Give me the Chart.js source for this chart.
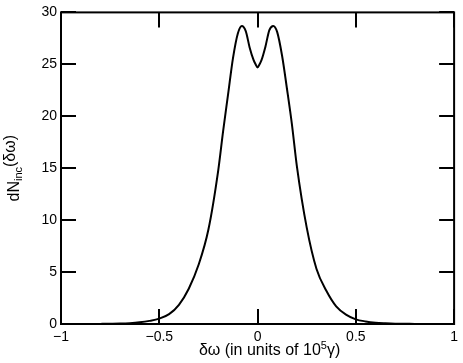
<!DOCTYPE html>
<html>
<head>
<meta charset="utf-8">
<script src="https://cdn.jsdelivr.net/npm/chart.js@4"></script>
<style>
  html, body { margin: 0; padding: 0; background: #fff; }
  #wrap { width: 463px; height: 363px; }
</style>
</head>
<body>
<div id="wrap"><canvas id="chart1"></canvas></div>
<script>
// frequency offset (units of 1e5 gamma)
const dOmega = [-1, -0.9, -0.8, -0.7, -0.65, -0.6, -0.55, -0.5, -0.45, -0.4, -0.35, -0.3, -0.25, -0.2, -0.175, -0.15, -0.125, -0.1, -0.08, -0.06, -0.04, -0.02, -0.01,
  0, 0.01, 0.02, 0.04, 0.06, 0.08, 0.1, 0.125, 0.15, 0.175, 0.2, 0.25, 0.3, 0.35, 0.4, 0.45, 0.5, 0.55, 0.6, 0.65, 0.7, 0.8, 0.9, 1];
// dN_inc values
const dNinc = [0, 0, 0.01, 0.04, 0.08, 0.16, 0.3, 0.52, 0.95, 1.85, 3.4, 5.7, 9.1, 14.8, 18.6, 22.1, 25.6, 28.0, 28.7, 28.2, 26.6, 25.4, 25.0,
  24.7, 25.0, 25.4, 26.7, 28.3, 28.7, 28.1, 25.8, 22.6, 19.2, 15.2, 9.3, 5.3, 3.2, 1.7, 0.9, 0.45, 0.25, 0.13, 0.07, 0.03, 0.01, 0, 0];

const xTicks = [-1, -0.5, 0, 0.5, 1];
const xTickLabels = ['\u22121', '\u22120.5', '0', '0.5', '1'];
const yTicks = [0, 5, 10, 15, 20, 25, 30];

const font = '"Liberation Sans", Arial, Helvetica, sans-serif';

// frame, inward ticks on all four sides, and the two axis titles
const framePlugin = {
  id: 'frame',
  afterDraw(chart) {
    const ctx = chart.ctx;
    const a = chart.chartArea;
    const xs = chart.scales.x, ys = chart.scales.y;
    const len = 15;
    ctx.save();
    ctx.strokeStyle = '#000';
    ctx.lineWidth = 2;
    ctx.beginPath();
    xTicks.forEach(v => {
      const px = Math.round(xs.getPixelForValue(v));
      ctx.moveTo(px, a.bottom); ctx.lineTo(px, a.bottom - len);
      ctx.moveTo(px, a.top); ctx.lineTo(px, a.top + len);
    });
    yTicks.forEach(v => {
      const py = Math.round(ys.getPixelForValue(v));
      ctx.moveTo(a.left, py); ctx.lineTo(a.left + len, py);
      ctx.moveTo(a.right, py); ctx.lineTo(a.right - len, py);
    });
    ctx.stroke();
    ctx.strokeRect(a.left, a.top, a.right - a.left, a.bottom - a.top);

    // x title with superscript
    ctx.fillStyle = '#000';
    ctx.textBaseline = 'alphabetic';
    ctx.textAlign = 'left';
    const big = '16px ' + font, small = '11px ' + font;
    const p1 = '\u03b4\u03c9 (in units of 10', p2 = '5', p3 = '\u03b3)';
    ctx.font = big; const w1 = ctx.measureText(p1).width, w3 = ctx.measureText(p3).width;
    ctx.font = small; const w2 = ctx.measureText(p2).width;
    let x0 = (a.left + a.right) / 2 + 12 - (w1 + w2 + w3) / 2;
    const by = 355;
    ctx.font = big; ctx.fillText(p1, x0, by);
    ctx.font = small; ctx.fillText(p2, x0 + w1, by - 6);
    ctx.font = big; ctx.fillText(p3, x0 + w1 + w2, by);

    // y title with subscript, rotated
    const q1 = 'dN', q2 = 'inc', q3 = '(\u03b4\u03c9)';
    ctx.font = big; const v1 = ctx.measureText(q1).width, v3 = ctx.measureText(q3).width;
    ctx.font = small; const v2 = ctx.measureText(q2).width;
    ctx.translate(19, (a.top + a.bottom) / 2);
    ctx.rotate(-Math.PI / 2);
    const y0 = -(v1 + v2 + v3) / 2;
    ctx.font = big; ctx.fillText(q1, y0, 0);
    ctx.font = small; ctx.fillText(q2, y0 + v1, 3);
    ctx.font = big; ctx.fillText(q3, y0 + v1 + v2, -4);
    ctx.restore();
  }
};

const ctx1 = document.getElementById('chart1').getContext('2d');
const myChart1 = new Chart(ctx1, {
  type: 'line',
  data: {
    datasets: [{
      data: dOmega.map((x, i) => ({ x: x, y: dNinc[i] })),
      borderColor: '#000',
      borderWidth: 2,
      pointRadius: 0,
      fill: false,
      cubicInterpolationMode: 'monotone'
    }]
  },
  options: {
    responsive: true,
    maintainAspectRatio: false,
    animation: false,
    layout: { padding: { top: 12, right: 8, left: 0, bottom: 0 } },
    plugins: { legend: { display: false }, tooltip: { enabled: false } },
    scales: {
      x: {
        type: 'linear',
        min: -1, max: 1,
        afterBuildTicks: s => { s.ticks = xTicks.map(v => ({ value: v })); },
        afterFit: s => { s.height = 39; },
        grid: { display: false, drawTicks: false },
        border: { display: false },
        ticks: {
          color: '#000', padding: 5, maxRotation: 0,
          font: { family: font, size: 14 },
          callback: v => xTickLabels[xTicks.indexOf(v)]
        }
      },
      y: {
        min: 0, max: 30,
        afterBuildTicks: s => { s.ticks = yTicks.map(v => ({ value: v })); },
        afterFit: s => { s.width = 61; },
        grid: { display: false, drawTicks: false },
        border: { display: false },
        ticks: {
          color: '#000', padding: 4,
          font: { family: font, size: 14 }
        }
      }
    }
  },
  plugins: [framePlugin]
});
</script>
</body>
</html>
